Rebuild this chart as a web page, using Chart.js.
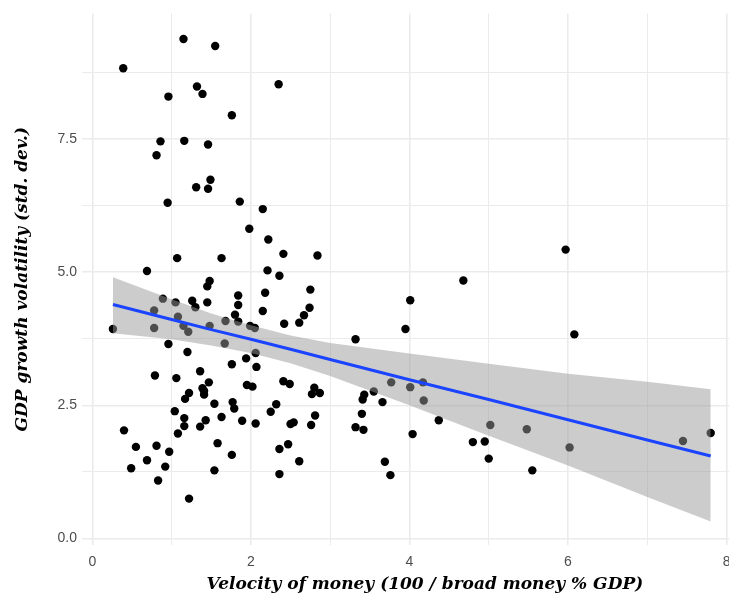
<!DOCTYPE html>
<html>
<head>
<meta charset="utf-8">
<script src="https://cdn.jsdelivr.net/npm/chart.js@4.4.1/dist/chart.umd.min.js"></script>
<style>
  html, body { margin: 0; padding: 0; background: #fff; overflow: hidden; }
  #wrap { width: 772px; height: 600px; }
</style>
</head>
<body>
<div id="wrap"><canvas id="velocityChart" width="772" height="600"></canvas></div>
<script>
// ----------------------- data --------------------

// velocity of money (x) and GDP growth volatility (y), one entry per country
const velocity = [
  1.15, 1.55, 0.39, 2.35, 1.32, 1.39, 0.96, 1.76, 0.86, 1.16,
  1.46, 0.81, 1.49, 1.31, 1.46, 0.95, 1.86, 2.15, 1.98, 2.22,
  2.41, 2.84, 1.07, 1.63, 0.69, 2.21, 2.36, 1.48, 1.45, 2.18,
  2.75, 0.89, 1.84, 1.05, 1.26, 1.45, 1.30, 1.84, 2.74, 2.15,
  0.78, 2.67, 1.08, 1.80, 2.61, 2.42, 1.84, 1.68, 1.15, 1.48,
  1.99, 2.05, 0.26, 0.78, 1.21, 3.95, 4.01, 4.68, 5.97, 6.08,
  3.32, 1.67, 0.96, 1.20, 2.06, 1.94, 1.76, 2.07, 1.36, 0.79,
  1.06, 1.47, 2.41, 2.49, 1.95, 2.02, 1.39, 1.41, 1.41, 1.22,
  1.17, 2.80, 2.77, 2.87, 1.54, 1.77, 1.79, 2.32, 1.04, 2.25,
  2.81, 1.16, 1.16, 1.43, 1.63, 1.89, 1.36, 2.06, 2.50, 2.54,
  2.76, 0.40, 1.08, 0.55, 0.81, 0.97, 1.58, 1.76, 0.69, 0.49,
  0.92, 1.54, 0.83, 1.22, 2.36, 2.47, 2.61, 2.36, 3.43, 3.41,
  3.55, 3.66, 3.40, 3.32, 3.42, 3.77, 4.01, 4.17, 4.18, 4.37,
  4.04, 3.69, 3.76, 5.02, 5.48, 4.80, 4.95, 5.00, 5.55, 6.02,
  7.45, 7.80
];
const volatility = [
  9.37, 9.24, 8.82, 8.52, 8.48, 8.34, 8.29, 7.94, 7.45, 7.46,
  7.39, 7.19, 6.73, 6.59, 6.56, 6.30, 6.32, 6.18, 5.81, 5.61,
  5.34, 5.31, 5.26, 5.26, 5.02, 5.03, 4.93, 4.83, 4.73, 4.61,
  4.67, 4.50, 4.56, 4.43, 4.46, 4.43, 4.34, 4.38, 4.33, 4.27,
  4.28, 4.19, 4.16, 4.20, 4.05, 4.03, 4.07, 4.08, 3.99, 3.99,
  3.99, 3.95, 3.93, 3.95, 3.88, 3.93, 4.47, 4.84, 5.42, 3.83,
  3.74, 3.66, 3.65, 3.50, 3.48, 3.38, 3.27, 3.22, 3.14, 3.06,
  3.01, 2.93, 2.95, 2.90, 2.88, 2.85, 2.82, 2.77, 2.70, 2.73,
  2.62, 2.83, 2.71, 2.73, 2.53, 2.56, 2.44, 2.52, 2.39, 2.38,
  2.31, 2.26, 2.11, 2.22, 2.28, 2.21, 2.10, 2.16, 2.15, 2.18,
  2.13, 2.03, 1.97, 1.72, 1.74, 1.63, 1.79, 1.57, 1.47, 1.32,
  1.35, 1.28, 1.09, 0.75, 1.68, 1.77, 1.45, 1.21, 2.70, 2.61,
  2.76, 2.56, 2.34, 2.09, 2.04, 2.93, 2.84, 2.93, 2.59, 2.22,
  1.96, 1.44, 1.19, 2.13, 2.05, 1.81, 1.82, 1.50, 1.28, 1.71,
  1.83, 1.98
];

// linear fit and its confidence band
const fitX = [0.26, 1, 1.5, 2, 2.5, 3, 4, 5, 6, 7, 7.8];
const fitY = [4.39, 4.11, 3.92, 3.74, 3.55, 3.36, 2.98, 2.61, 2.23, 1.85, 1.55];
const bandUpper = [4.90, 4.49, 4.22, 4.00, 3.81, 3.67, 3.47, 3.28, 3.09, 2.94, 2.80];
const bandLower = [3.85, 3.74, 3.62, 3.48, 3.29, 3.05, 2.50, 1.93, 1.37, 0.78, 0.32];

// axis ticks (labelled) and grid steps
const xTicks = [0, 2, 4, 6, 8];
const yTicks = [0, 2.5, 5, 7.5];
const xGrid = [0, 1, 2, 3, 4, 5, 6, 7, 8];
const yGrid = [0, 1.25, 2.5, 3.75, 5, 6.25, 7.5, 8.75];

// ----------------------- chart --------------------

const toPoints = (xs, ys) => xs.map((x, i) => ({ x: x, y: ys[i] }));

const tickFont = { family: "Liberation Sans", size: 14 };
const titleFont = { family: "DejaVu Serif", size: 17, style: "italic", weight: "bold" };
const gridColor = "#ebebeb";

document.addEventListener("DOMContentLoaded", () => {
  const ctx = document.getElementById("velocityChart").getContext("2d");

  new Chart(ctx, {
    type: "scatter",
    data: {
      datasets: [
        {
          label: "countries",
          data: toPoints(velocity, volatility),
          backgroundColor: "#000000",
          borderWidth: 0,
          pointRadius: 4.2,
          order: 3,
        },
        {
          type: "line",
          label: "upper",
          data: toPoints(fitX, bandUpper),
          borderWidth: 0,
          pointRadius: 0,
          fill: "+1",
          backgroundColor: "rgba(153, 153, 153, 0.5)",
          order: 2,
        },
        {
          type: "line",
          label: "lower",
          data: toPoints(fitX, bandLower),
          borderWidth: 0,
          pointRadius: 0,
          fill: false,
          order: 2,
        },
        {
          type: "line",
          label: "fit",
          data: toPoints(fitX, fitY),
          borderColor: "#1a44ff",
          borderWidth: 3,
          pointRadius: 0,
          fill: false,
          order: 1,
        },
      ],
    },
    options: {
      responsive: false,
      animation: false,
      layout: { padding: { top: 8, right: 4, bottom: 0, left: 0 } },
      plugins: {
        legend: { display: false },
        tooltip: { enabled: false },
      },
      scales: {
        x: {
          type: "linear",
          min: -0.13,
          max: 8.52,
          afterBuildTicks: (scale) => {
            scale.ticks = xGrid.map((v) => ({ value: v }));
          },
          afterFit: (scale) => {
            scale.height = 55;
          },
          ticks: {
            autoSkip: false,
            maxRotation: 0,
            padding: 9,
            color: "#4d4d4d",
            font: tickFont,
            callback: (value) => (xTicks.includes(value) ? String(value) : ""),
          },
          grid: {
            color: gridColor,
            drawTicks: false,
            lineWidth: (c) => (xTicks.includes(c.tick.value) ? 1.6 : 1),
          },
          border: { display: false },
          title: {
            display: true,
            text: "Velocity of money (100 / broad money % GDP)",
            color: "#000000",
            font: titleFont,
            padding: { top: 0, bottom: 5 },
          },
        },
        y: {
          type: "linear",
          min: -0.12,
          max: 9.85,
          afterBuildTicks: (scale) => {
            scale.ticks = yGrid.map((v) => ({ value: v }));
          },
          afterFit: (scale) => {
            scale.width = 82;
          },
          ticks: {
            autoSkip: false,
            padding: 5,
            color: "#4d4d4d",
            font: tickFont,
            callback: (value) => (yTicks.includes(value) ? value.toFixed(1) : ""),
          },
          grid: {
            color: gridColor,
            drawTicks: false,
            lineWidth: (c) => (yTicks.includes(c.tick.value) ? 1.6 : 1),
          },
          border: { display: false },
          title: {
            display: true,
            text: "GDP growth volatility (std. dev.)",
            color: "#000000",
            font: titleFont,
            padding: { top: 12, bottom: 0 },
          },
        },
      },
    },
  });
});
</script>
</body>
</html>
